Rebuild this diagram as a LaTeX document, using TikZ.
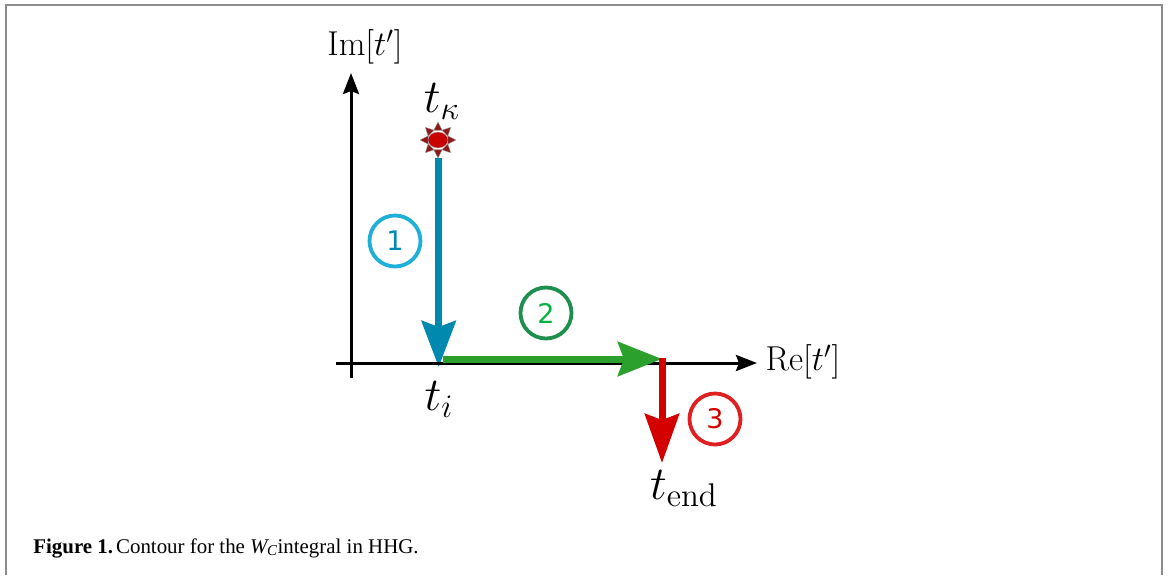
\documentclass[tikz,border=0pt]{standalone}
\usepackage{amsmath,amssymb}
\usepackage{fontspec}
\newfontfamily\capfont{Liberation Serif}
\newfontfamily\numfont{DejaVu Sans}
\usetikzlibrary{arrows.meta,calc}
\definecolor{framegray}{HTML}{8C8C8C}
\definecolor{pathblue}{HTML}{0089AE}
\definecolor{ringblue}{HTML}{1EB0D8}
\definecolor{pathgreen}{HTML}{2CA02C}
\definecolor{ringgreen}{HTML}{1E8F4E}
\definecolor{numgreen}{HTML}{00B140}
\definecolor{pathred}{HTML}{D40000}
\definecolor{ringred}{HTML}{E02020}
\definecolor{burst}{HTML}{8B1A1A}
\begin{document}
\begin{tikzpicture}[
    x=0.5pt, y=-0.5pt, line join=miter,
    axis/.style={line width=1.5pt, -{Stealth[length=10.5pt,width=8pt,inset=1.5pt]}},
    contour/.style={line width=3.5pt, -{Stealth[length=#1,width=17pt,inset=3pt]}},
    contour/.default=23pt,
    ring/.style={circle, line width=1.9pt, minimum size=25.5pt, inner sep=0pt, font=\numfont\fontsize{13.5}{13.5}\selectfont},
    lab/.style={font=\LARGE, inner sep=0pt},
    tlab/.style={font=\huge, inner sep=0pt, scale=1.14, transform shape}]
  \useasboundingbox (0,0) rectangle (1168,575);
  % Marco
  \draw[framegray, line width=1.2pt] (6,575) -- (6,5) -- (1162,5) -- (1162,575);
  % Puntos de la curva
  \coordinate (ybot) at (351,378);
  \coordinate (ytop) at (351,73);
  \coordinate (xleft) at (336,363);
  \coordinate (xright) at (757,363);
  \coordinate (kstart) at (438.7,158);
  \coordinate (kend) at (438.7,367);
  \coordinate (gstart) at (443,359);
  \coordinate (gend) at (662,359);
  \coordinate (rstart) at (662,358);
  \coordinate (rend) at (662,463);
  % Ionizacion
  \coordinate (kappa) at (438,140);
  \foreach \ang in {0,45,...,315}
    \fill[burst, draw=gray!70, line width=0.2pt]
      ($(kappa)+(\ang-24:10.5)$) -- ($(kappa)+(\ang:18)$) -- ($(kappa)+(\ang+24:10.5)$) -- cycle;
  \fill[pathred!95!black, draw=gray!60, line width=0.2pt] (kappa) ellipse (10 and 8);
  % Flechas
  \draw[contour, pathblue] (kstart) -- (kend);
  \draw[axis] (ybot) -- (ytop);
  \draw[axis] (xleft) -- (xright);
  \draw[contour=22pt, pathgreen] (gstart) -- (gend);
  \draw[contour=24.5pt, pathred] (rstart) -- (rend);
  % Etiquetas
  \node[lab] (im) at (365,47) {$\mathrm{Im}[t']$};
  \node[lab] (re) at (803,362) {$\mathrm{Re}[t']$};
  \node[tlab] (tk) at (442,101) {$t_\kappa$};
  \node[tlab] (ti) at (439,399) {$t_i$};
  \node[tlab] (te) at (684,489) {$t_{\mathrm{end}}$};
  % Numeros
  \node[ring, draw=ringblue, text=pathblue] (one) at (395,241) {1};
  \node[ring, draw=ringgreen, text=numgreen] (two) at (546,313) {2};
  \node[ring, draw=ringred, text=pathred] (three) at (715,419) {3};
  % Pie
  \node[anchor=base west, inner sep=0pt, font=\capfont\fontsize{10.45}{12}\selectfont] (cap) at (33,553)
    {\textbf{Figure 1.}\kern1.5pt Contour for the {\itshape W\kern-0.3pt\raisebox{-0.25ex}{\fontsize{7.5}{8}\selectfont C}\kern0.3pt}integral in HHG.};
\end{tikzpicture}
\end{document}
